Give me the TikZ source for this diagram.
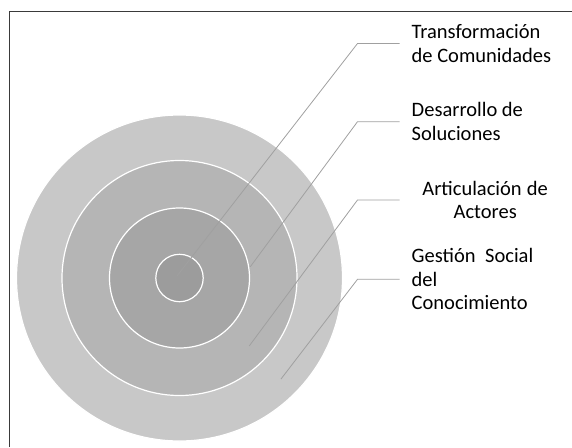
\documentclass[tikz,border=0pt]{standalone}
\usepackage{fontspec}
\setmainfont{Carlito}
\usepackage{tikz}

\definecolor{ringa}{HTML}{C8C8C8}
\definecolor{ringb}{HTML}{B5B5B5}
\definecolor{ringc}{HTML}{A6A6A6}
\definecolor{ringd}{HTML}{9C9C9C}
\definecolor{leadgray}{HTML}{A0A0A0}
\definecolor{framegray}{HTML}{3A3A3A}
\newcommand\plainspaces{\spaceskip=0pt \xspaceskip=0pt\relax}

\begin{document}
\begin{tikzpicture}[x=1pt,y=-1pt]
  \tikzstyle{ring}=[circle,draw=white,line width=1.2pt,inner sep=0pt]
  \tikzstyle{ringtext}=[anchor=west,inner xsep=12pt,inner ysep=0pt,text width=147pt,
                        font=\fontsize{20.5}{23.5}\selectfont,
                        execute at begin node=\plainspaces]
  \tikzstyle{lead}=[draw=leadgray,line width=0.8pt]
  \useasboundingbox (0,0) rectangle (572,447);
  \draw[framegray,line width=1.2pt] (9.5,447) -- (9.5,11.5) -- (572,11.5);
  % concentric rings
  \node[ring,fill=ringa,minimum size=326pt]  (G) at (179.5,278) {};
  \node[ring,fill=ringb,minimum size=235pt]  (A) at (G.center) {};
  \node[ring,fill=ringc,minimum size=140pt]  (D) at (G.center) {};
  \node[ring,fill=ringd,minimum size=47.4pt] (T) at (G.center) {};
  % texts
  \node[ringtext,align=left]   (Tx) at (399.5,43.5)  {Transformación\\de Comunidades};
  \node[ringtext,align=left]   (Dx) at (399.5,121.7) {Desarrollo de\\Soluciones};
  \node[ringtext,align=center] (Ax) at (399.5,200)   {Articulación de\\Actores};
  \node[ringtext,align=left]   (Gx) at (399.5,279.3) {Gestión\hspace{9.5pt}Social\\del\\Conocimiento};
  % leaders
  \coordinate (t0) at (177,276);   \coordinate (t1) at (357.5,43.5);
  \coordinate (d0) at (250.3,266.7); \coordinate (d1) at (357.5,121.7);
  \coordinate (a0) at (249.2,346); \coordinate (a1) at (357.5,200);
  \coordinate (g0) at (281,379);   \coordinate (g1) at (357.5,279.3);
  \draw[lead] (t0) -- (t1) -- (Tx.west);
  \draw[lead] (d0) -- (d1) -- (Dx.west);
  \draw[lead] (a0) -- (a1) -- (Ax.west);
  \draw[lead] (g0) -- (g1) -- (Gx.west);
\end{tikzpicture}
\end{document}
